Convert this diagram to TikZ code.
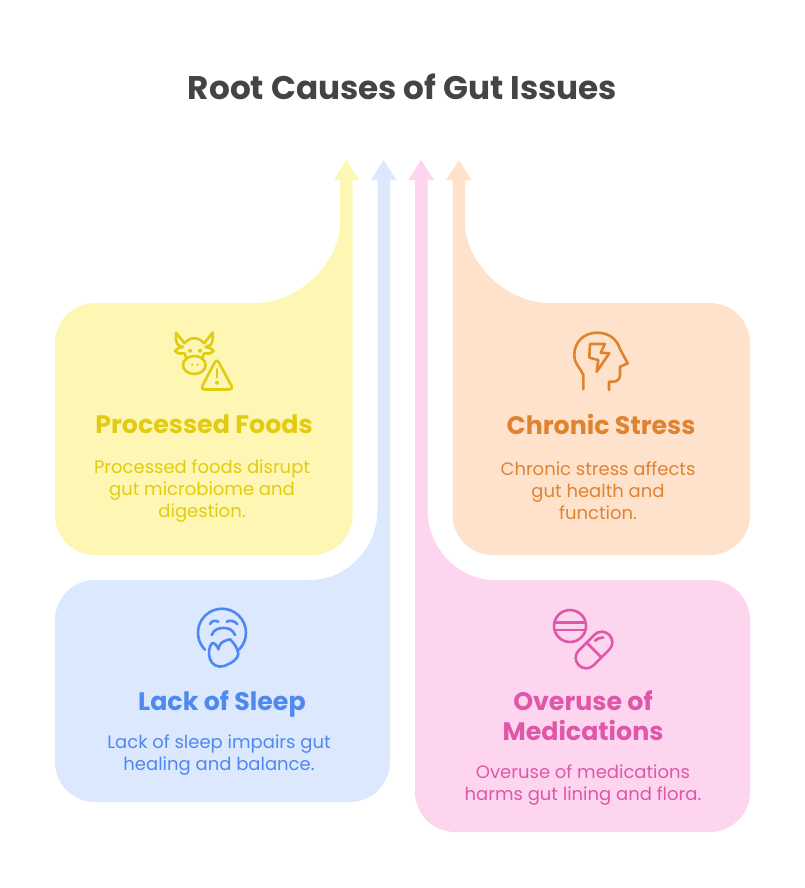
\documentclass[tikz,border=0pt]{standalone}
\usepackage{fontspec}
\setmainfont{Poppins}
\definecolor{foodfill}{HTML}{FEF6B3}
\definecolor{foodline}{HTML}{E3CB12}
\definecolor{sleepfill}{HTML}{DBE8FE}
\definecolor{sleepline}{HTML}{4F88EF}
\definecolor{medfill}{HTML}{FDD5EE}
\definecolor{medline}{HTML}{E056A9}
\definecolor{stressfill}{HTML}{FEE2CB}
\definecolor{stressline}{HTML}{E08331}
\definecolor{titlecol}{HTML}{444444}
\tikzset{
  headtext/.style={font=\fontsize{25.3}{30}\selectfont\bfseries, align=center},
  bodytext/.style={font=\fontsize{18}{22}\selectfont, align=center},
  icon/.style={line width=2.6pt, line cap=round, line join=round}
}
\begin{document}
\begin{tikzpicture}[x=1pt,y=-1pt]
    \useasboundingbox (0,0) rectangle (805,888);
    \node[font=\fontsize{32.7}{36}\selectfont\bfseries, text=titlecol] (title) at (402.5,87) {Root Causes of Gut Issues};

    \fill[foodfill] (352.5,180) -- (352.5,515) arc[start angle=0, end angle=-90, radius=40pt] -- (95,555) arc[start angle=270, end angle=180, radius=40pt] -- (55,343) arc[start angle=180, end angle=90, radius=40pt] -- (255,303) .. controls (302,303) and (340,260) .. (340,223) -- (340,180) -- (333.5,180) -- (346.5,160) -- (359,180) -- cycle;
    \fill[sleepfill] (390,180) -- (390,762) arc[start angle=0, end angle=-90, radius=40pt] -- (95,802) arc[start angle=270, end angle=180, radius=40pt] -- (55,620) arc[start angle=180, end angle=90, radius=40pt] -- (310,580) .. controls (347,580) and (377.5,548) .. (377.5,510) -- (377.5,180) -- (371,180) -- (383.5,160) -- (396.5,180) -- cycle;
    \fill[medfill] (415,180) -- (408.5,180) -- (421,160) -- (434,180) -- (427.5,180) -- (427.5,510) .. controls (427.5,548) and (458,580) .. (495,580) -- (710,580) arc[start angle=90, end angle=0, radius=40pt] -- (750,792) arc[start angle=0, end angle=-90, radius=40pt] -- (455,832) arc[start angle=270, end angle=180, radius=40pt] -- cycle;
    \fill[stressfill] (452.5,180) -- (446,180) -- (459,160) -- (471.5,180) -- (465,180) -- (465,223) .. controls (465,260) and (503,303) .. (550,303) -- (710,303) arc[start angle=90, end angle=0, radius=40pt] -- (750,515) arc[start angle=0, end angle=-90, radius=40pt] -- (492.5,555) arc[start angle=270, end angle=180, radius=40pt] -- cycle;

    % cow and warning sign
    \begin{scope}[icon, draw=foodline]
    \draw (184.3,343.5) .. controls (190,336.5) and (198.6,336.5) .. (204.3,343.5);
    \draw (184.3,343) -- (176,332.7) .. controls (175.5,338) and (176,342) .. (178,345) -- (183,347) .. controls (179,347.5) and (176.5,349) .. (175,351) .. controls (178,354) and (181,354) .. (184.5,353.3) -- (186.7,359);
    \draw (204.3,343) -- (212.6,332.7) .. controls (213.1,338) and (212.6,342) .. (210.6,345) -- (205.6,347) .. controls (209.6,347.5) and (212.1,349) .. (213.6,351) .. controls (210.6,354) and (207.6,354) .. (204.1,353.3) -- (201.9,359);
    \draw (194.3,365) ellipse [x radius=11.3, y radius=9];
    \fill[foodline] (190,350.7) circle[radius=2] (200,350.7) circle[radius=2] (192.3,364.7) circle[radius=1.3] (197.7,364.7) circle[radius=1.3];
    \draw[rounded corners=4pt] (216.7,358.5) -- (233.5,389.5) -- (200.5,389.5) -- cycle;
    \draw (217,369.3) -- (217,377.3);
    \fill[foodline] (217,382.7) circle[radius=2];
    \end{scope}

    % head with bolt
    \begin{scope}[icon, draw=stressline]
    \draw (583.3,389.3) -- (583.3,375) .. controls (581,368) and (574.3,365) .. (574.3,355) .. controls (574.3,342) and (584,332.7) .. (597,332.7) .. controls (610,332.7) and (617,340) .. (620,349) -- (627.7,363.3) -- (620,366.7) -- (620,375) .. controls (620,379) and (617,381.7) .. (613,381.7) -- (609,381.7) -- (609,390);
    \draw (590,344) -- (605,344) -- (600.7,352.7) -- (609.3,353.3) -- (596.7,371.7) -- (598.3,360) -- (589.3,357.7) -- cycle;
    \end{scope}

    % yawning face
    \begin{scope}[icon, draw=sleepline]
    \draw (205,649.7) arc[start angle=225, end angle=-45, radius=24pt];
    \draw (210,624) .. controls (212,620.5) and (215,620) .. (218.3,621.7);
    \draw (226.7,621.7) .. controls (230,620) and (234,620.5) .. (237.3,624);
    \draw (211.7,635) .. controls (214,629) and (219,628) .. (223.5,628) .. controls (228,628) and (232.5,629) .. (235,635);
    \draw (212.3,643) .. controls (209,646) and (208,653) .. (210,659) .. controls (212,665) and (218,668) .. (224,666) .. controls (232,663) and (238,659) .. (238.3,654) .. controls (238,648) and (233,642) .. (230,639.3) .. controls (226,640) and (222,642) .. (220.5,644) .. controls (219,646) and (218.5,648) .. (218.3,649.3) .. controls (217.5,646) and (215,643) .. (212.3,643);
    \end{scope}

    % pills
    \begin{scope}[icon, draw=medline]
    \draw (570,626) circle[radius=16];
    \draw (555,622.7) -- (585,622.7);
    \draw (555,630) -- (585,630);
    \draw[rotate around={45:(594,650)}, rounded corners=10.4pt] (572.5,639.5) rectangle (615.5,660.5);
    \draw (586.6,642.6) -- (601.4,657.4);
    \draw (595,640.7) .. controls (597,638.5) and (600,637.5) .. (603.3,637.5);
    \end{scope}

    \node[headtext, text=foodline] (foodhead) at (204,424) {Processed Foods};
    \node[bodytext, text=foodline] (foodbody) at (202,491) {Processed foods disrupt\\gut microbiome and\\digestion.};
    \node[headtext, text=stressline] (stresshead) at (601,424) {Chronic Stress};
    \node[bodytext, text=stressline] (stressbody) at (598,491) {Chronic stress affects\\gut health and\\function.};
    \node[headtext, text=sleepline] (sleephead) at (222,704) {Lack of Sleep};
    \node[bodytext, text=sleepline] (sleepbody) at (219,755) {Lack of sleep impairs gut\\healing and balance.};
    \node[headtext, text=medline] (medhead) at (583,716) {Overuse of\\Medications};
    \node[bodytext, text=medline] (medbody) at (583,785) {Overuse of medications\\harms gut lining and flora.};
\end{tikzpicture}
\end{document}
